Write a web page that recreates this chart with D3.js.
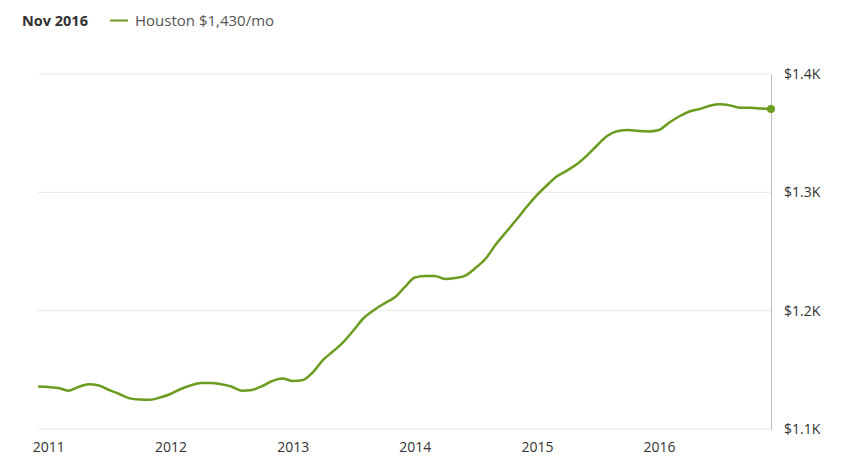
<!DOCTYPE html>
<html>
<head>
<meta charset="utf-8">
<script src="https://cdn.jsdelivr.net/npm/d3@7/dist/d3.min.js"></script>
<style>
  html, body { margin: 0; padding: 0; background: #fff; }
  svg { display: block; font-family: "Open Sans", sans-serif; }
</style>
</head>
<body>
<svg id="chart" width="848" height="474"></svg>
<script>
// ---- Data ----
const seriesName = "Houston";
const titleLabel = "Nov 2016";
const legendValue = "$1,430/mo";
const startMonth = "2010-12";
// monthly rent values (USD), Dec 2010 .. Dec 2016
const rentValues = [
  1136, 1135.5, 1134.6, 1132.4, 1135.5, 1137.8, 1136.8, 1133, 1129.6, 1125.9, 1124.9, 1124.7,
  1126.6, 1129.6, 1133.8, 1136.8, 1138.9, 1138.9, 1137.8, 1135.9, 1132.4, 1133, 1136.3, 1140.6,
  1142.7, 1140.6, 1141.4, 1147.7, 1158.3, 1165.5, 1173.5, 1183.2, 1193.8, 1200.6, 1206, 1211.1,
  1219.6, 1228, 1229.3, 1229.3, 1226.8, 1227.6, 1229.7, 1236, 1244.1, 1256.3, 1266.5, 1277,
  1287.6, 1297.7, 1306.2, 1313.4, 1318.4, 1323.9, 1331.5, 1340, 1348, 1351.8, 1352.7, 1351.8,
  1351.4, 1352.7, 1359, 1364.1, 1368.3, 1370.4, 1373.2, 1374.4, 1373.4, 1371.5, 1371.5, 1370.8,
  1370.4
];
const yTicks = [1100, 1200, 1300, 1400];
const yTickLabels = ["$1.1K", "$1.2K", "$1.3K", "$1.4K"];
const xTickYears = [2011, 2012, 2013, 2014, 2015, 2016];

// ---- Build ----
(function () {
  const parseMonth = d3.timeParse("%Y-%m");
  const start = parseMonth(startMonth);
  const data = rentValues.map((v, i) => ({ date: d3.timeMonth.offset(start, i), value: v }));

  const svg = d3.select("#chart");
  const mLeft = 38, mRight = 771, mTop = 74, mBottom = 429;
  const green = "#6b9c1f";

  const x = d3.scaleTime()
    .domain(d3.extent(data, d => d.date))
    .range([mLeft, mRight]);
  const y = d3.scaleLinear()
    .domain([1100, 1400])
    .range([mBottom, mTop]);

  // gridlines
  svg.append("g")
    .selectAll("line")
    .data(yTicks)
    .join("line")
    .attr("x1", mLeft).attr("x2", mRight)
    .attr("y1", d => y(d)).attr("y2", d => y(d))
    .attr("stroke", "#e8e8e8").attr("stroke-width", 1);

  // right axis
  const yAxis = d3.axisRight(y)
    .tickValues(yTicks)
    .tickSize(0)
    .tickPadding(13)
    .tickFormat((d, i) => yTickLabels[i]);
  const gy = svg.append("g").attr("transform", `translate(${mRight},0)`).call(yAxis);
  gy.select(".domain").attr("stroke", "#bdbdbd").attr("stroke-width", 1);
  gy.selectAll("text").attr("font-size", 14).attr("fill", "#333")
    .attr("font-family", "'Open Sans', sans-serif");

  // bottom axis
  const xAxis = d3.axisBottom(x)
    .tickValues(xTickYears.map(yr => new Date(yr, 0, 1)))
    .tickSize(0)
    .tickPadding(13)
    .tickFormat(d3.timeFormat("%Y"));
  const gx = svg.append("g").attr("transform", `translate(0,${mBottom})`).call(xAxis);
  gx.select(".domain").remove();
  gx.selectAll("text").attr("font-size", 14).attr("fill", "#333")
    .attr("font-family", "'Open Sans', sans-serif");

  // line
  const line = d3.line()
    .x(d => x(d.date))
    .y(d => y(d.value))
    .curve(d3.curveMonotoneX);
  svg.append("path")
    .datum(data)
    .attr("fill", "none")
    .attr("stroke", green)
    .attr("stroke-width", 2.5)
    .attr("stroke-linejoin", "round")
    .attr("d", line);

  // end dot
  const last = data[data.length - 1];
  svg.append("circle")
    .attr("cx", x(last.date)).attr("cy", y(last.value))
    .attr("r", 4).attr("fill", green);

  // title / legend
  svg.append("text")
    .attr("x", 22).attr("y", 25.5)
    .attr("font-size", 14.5).attr("font-weight", "bold").attr("fill", "#333")
    .text(titleLabel);
  svg.append("line")
    .attr("x1", 110).attr("x2", 128).attr("y1", 20.5).attr("y2", 20.5)
    .attr("stroke", green).attr("stroke-width", 2);
  svg.append("text")
    .attr("x", 135).attr("y", 25.5)
    .attr("font-size", 15).attr("fill", "#555")
    .text(`${seriesName} ${legendValue}`);
})();
</script>
</body>
</html>
